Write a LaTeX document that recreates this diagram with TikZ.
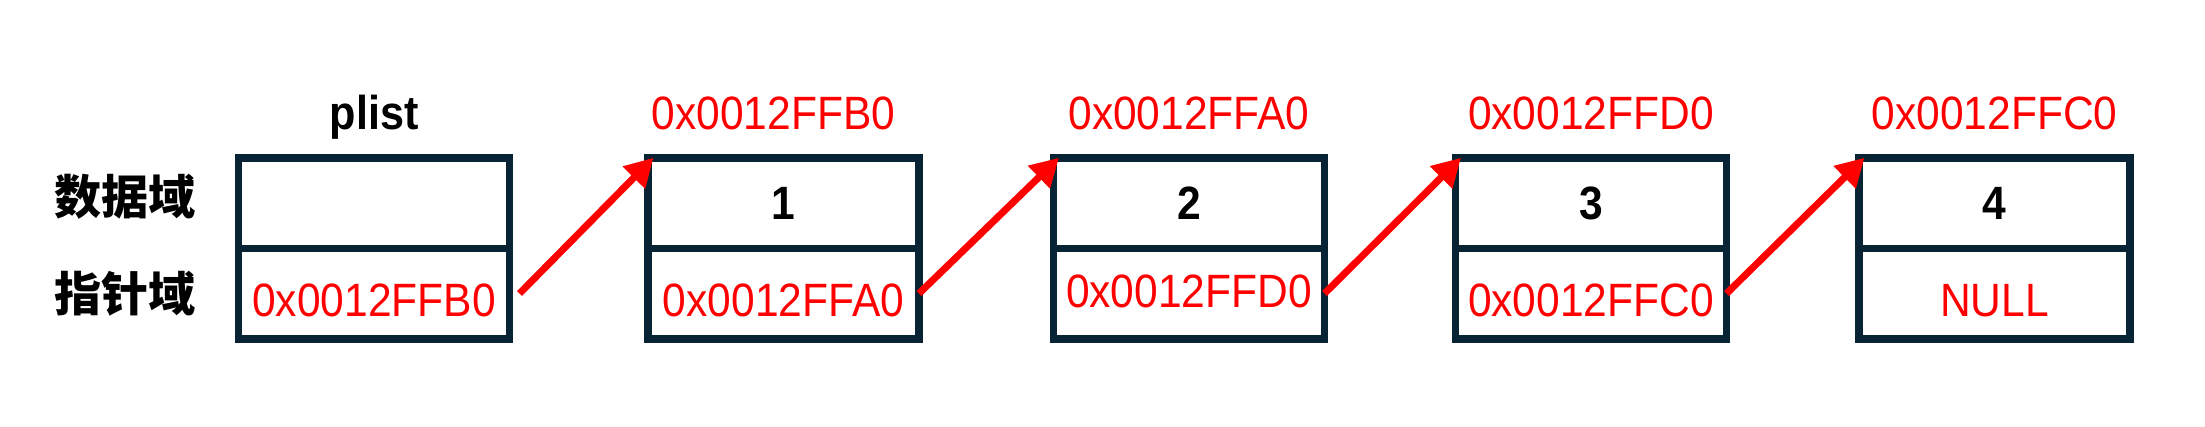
\documentclass[tikz,border=0pt]{standalone}
\usepackage{fontspec}
\setmainfont{Liberation Sans}
\newfontfamily\addrfont{Liberation Sans}[FakeStretch=0.91]
\newfontfamily\cjkfont{Noto Sans CJK SC}
\usepackage{tikz}
\usetikzlibrary{arrows.meta,positioning}
\definecolor{boxnavy}{RGB}{8,36,52}
\definecolor{ptrred}{RGB}{255,0,0}

\begin{document}
\begin{tikzpicture}[
    cell/.style={rectangle, draw=boxnavy, line width=0.075cm, outer sep=0pt,
                 minimum width=2.71cm, minimum height=0.905cm, inner sep=0pt,
                 font=\addrfont\fontsize{13.3pt}{16pt}\selectfont},
    datacell/.style={cell, text=black, font=\addrfont\bfseries\fontsize{13.3pt}{16pt}\selectfont},
    ptrcell/.style={cell, text=ptrred, text height=0.45cm, text depth=0cm},
    addr/.style={inner sep=0pt, anchor=base, text=ptrred,
                 font=\addrfont\fontsize{13.3pt}{16pt}\selectfont},
    field/.style={inner sep=0pt, font=\cjkfont\bfseries\fontsize{13.4pt}{16pt}\selectfont},
    link/.style={-{Triangle[length=0.28cm, width=0.3cm]}, line width=0.07cm, ptrred}
]
    \useasboundingbox (0,0) rectangle (22.05,4.26);

    % Head pointer
    \node[datacell] (d0) at (3.74,2.23) {};
    \node[ptrcell, below=0cm of d0] (p0) {0x0012FFB0};
    \node[inner sep=0pt, font=\addrfont\bfseries\fontsize{13.5pt}{16pt}\selectfont,
          above=0.28cm of d0.north, anchor=base] (head) {plist};

    % Field names
    \node[field, left=0.42cm of d0.west, yshift=0.06cm] (fdata) {数据域};
    \node[field, left=0.42cm of p0.west] (fptr) {指针域};

    % Node 1
    \node[datacell] (d1) at (7.835,2.23) {1};
    \node[ptrcell, below=0cm of d1] (p1) {0x0012FFA0};
    \node[addr, above=0.28cm of d1.north, anchor=base, xshift=-0.1cm] (a1) {0x0012FFB0};

    % Node 2
    \node[datacell] (d2) at (11.89,2.23) {2};
    \node[ptrcell, below=0cm of d2, text height=0.28cm] (p2) {0x0012FFD0};
    \node[addr, above=0.28cm of d2.north, anchor=base] (a2) {0x0012FFA0};

    % Node 3
    \node[datacell] (d3) at (15.91,2.23) {3};
    \node[ptrcell, below=0cm of d3] (p3) {0x0012FFC0};
    \node[addr, above=0.28cm of d3.north, anchor=base] (a3) {0x0012FFD0};

    % Node 4
    \node[datacell] (d4) at (19.945,2.23) {4};
    \node[ptrcell, below=0cm of d4] (p4) {NULL};
    \node[addr, above=0.28cm of d4.north, anchor=base] (a4) {0x0012FFC0};

    % Links
    \draw[link] ([xshift=0.1cm]p0.east) -- ([xshift=0.055cm]d1.north west);
    \draw[link] (p1.east) -- ([xshift=0.055cm]d2.north west);
    \draw[link] (p2.east) -- ([xshift=0.055cm]d3.north west);
    \draw[link] (p3.east) -- ([xshift=0.055cm]d4.north west);
\end{tikzpicture}
\end{document}
